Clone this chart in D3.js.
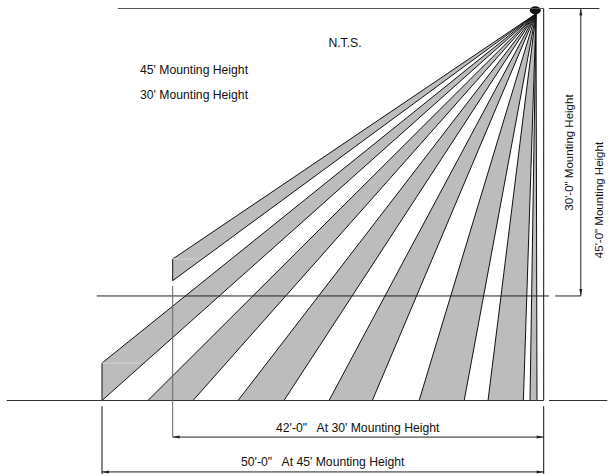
<!DOCTYPE html>
<html>
<head>
<meta charset="utf-8">
<script src="https://cdn.jsdelivr.net/npm/d3@7"></script>
<style>
  body { margin: 0; background: #fff; }
  text { font-family: "Liberation Sans", Arial, sans-serif; font-size: 12.2px; fill: #111; white-space: pre; }
  text.side { font-size: 11.5px; }
</style>
</head>
<body>
<div id="chart"></div>
<script>
// all values in feet, drawing is N.T.S. so the 30' line sits at about 33' on the y scale
const beamStart = [50, 44.8, 34.6, 24.3, 14.1, 6.3, 1.55];
const beamEnd = [50, 39.7, 29.4, 19.4, 9.0, 2.3, 0.76];
const upperBeam = { reach: 42, top: 28.76, bottom: 31.25 };
const farBeamTop = 40.7;
const lampReach = 0.87;
const lampDrop = 0.6;
const groundDepth = 45;
const mountDepth = 33;
const span30 = 42;
const span45 = 50;
const labels = ["45' Mounting Height", "30' Mounting Height"];

const width = 608, height = 474;
const svg = d3.select("#chart").append("svg")
  .attr("width", width).attr("height", height).style("display", "block");

const x = d3.scaleLinear().domain([0, 50]).range([543.7, 102]);
const y = d3.scaleLinear().domain([0, 45]).range([8.5, 400.5]);
const line = d3.line().x(d => x(d[0])).y(d => y(d[1]));
const apex = [lampReach, lampDrop];

// beams
const beams = beamStart.map((s, i) => {
  if (i === 0) return [apex, [s, farBeamTop], [s, groundDepth]];
  return [apex, [s, groundDepth], [beamEnd[i], groundDepth]];
});
beams.push([apex, [upperBeam.reach, upperBeam.top], [upperBeam.reach, upperBeam.bottom]]);

svg.append("g").selectAll("path").data(beams).enter().append("path")
  .attr("d", d => line(d) + "Z")
  .attr("fill", "#bcbcbc")
  .attr("stroke", "#111")
  .attr("stroke-width", 1)
  .attr("stroke-linejoin", "round");

// lamp head
svg.append("ellipse")
  .attr("cx", x(0.95)).attr("cy", y(0.2))
  .attr("rx", 5.5).attr("ry", 4)
  .attr("fill", "#111");

function rule(x1, y1, x2, y2, color, sw) {
  svg.append("line")
    .attr("x1", x(x1)).attr("y1", y(y1))
    .attr("x2", x(x2)).attr("y2", y(y2))
    .attr("stroke", color || "#222")
    .attr("stroke-width", sw || 1);
}

function arrow(px, py, dx, dy) {
  const nx = -dy, ny = dx;
  svg.append("path")
    .attr("d", `M${px},${py}L${px - dx * 7 + nx * 1.5},${py - dy * 7 + ny * 1.5}L${px - dx * 7 - nx * 1.5},${py - dy * 7 - ny * 1.5}Z`)
    .attr("fill", "#222");
}

// faint seams inside the two far beams
rule(50, farBeamTop, 45.6, farBeamTop, "#d4d4d4");
rule(42, upperBeam.top, 39, upperBeam.top, "#d4d4d4");

// horizontal reference lines, broken at the wall line
rule(48.2, 0, 0, 0, "#555");
rule(-0.6, 0, -6.3, 0, "#333");
rule(50.6, mountDepth, -0.6, mountDepth, "#222");
rule(-1.3, mountDepth, -4.2, mountDepth, "#222");
rule(60.8, groundDepth, 0, groundDepth, "#333");
rule(-0.6, groundDepth, -7.2, groundDepth, "#333");

// wall line and dimension witness lines
rule(0, 0, 0, groundDepth, "#111");
rule(0, 45.65, 0, 53.5, "#111");
rule(span30, 31.85, span30, 49.2, "#666");
rule(span45, 45.65, span45, 53.5, "#111");

// dimensions
rule(span30, 49.2, 0, 49.2, "#222");
arrow(x(span30), y(49.2), -1, 0);
arrow(x(0), y(49.2), 1, 0);
rule(span45, 53.2, 0, 53.2, "#222");
arrow(x(span45), y(53.2), -1, 0);
arrow(x(0), y(53.2), 1, 0);
rule(-4.2, 0, -4.2, mountDepth, "#222");
arrow(x(-4.2), y(0), 0, -1);
arrow(x(-4.2), y(mountDepth), 0, 1);

// text
svg.append("text").attr("x", 345).attr("y", 47).attr("text-anchor", "middle").text("N.T.S.");
svg.selectAll(".lab").data(labels).enter().append("text")
  .attr("class", "lab")
  .attr("x", 140)
  .attr("y", (d, i) => 74 + i * 25)
  .text(d => d);
svg.append("text").attr("x", 276).attr("y", 432).text("42'-0\"   At 30' Mounting Height");
svg.append("text").attr("x", 241).attr("y", 465.5).text("50'-0\"   At 45' Mounting Height");
svg.append("text").attr("class", "side").attr("transform", "translate(573,152.5) rotate(-90)")
  .attr("text-anchor", "middle").text("30'-0\" Mounting Height");
svg.append("text").attr("class", "side").attr("transform", "translate(603,200) rotate(-90)")
  .attr("text-anchor", "middle").text("45'-0\" Mounting Height");
</script>
</body>
</html>
